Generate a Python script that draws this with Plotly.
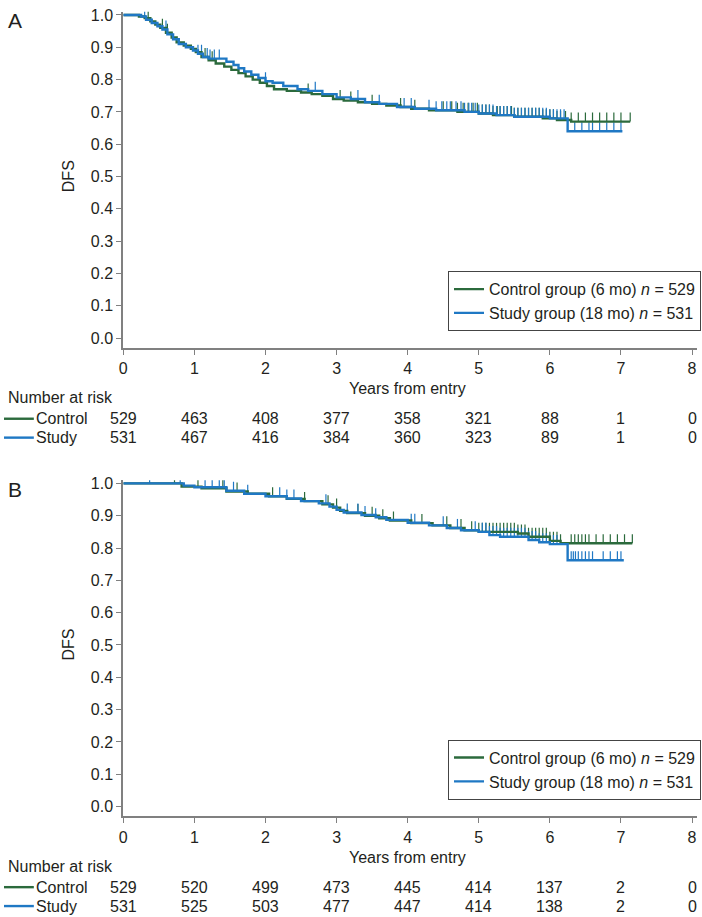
import plotly.graph_objects as go

# ---------------- data ----------------
years = [0, 1, 2, 3, 4, 5, 6, 7, 8]
dfs_ticks = [0.0, 0.1, 0.2, 0.3, 0.4, 0.5, 0.6, 0.7, 0.8, 0.9, 1.0]

# Panel A: Kaplan-Meier step points (time in years, DFS)
a_ctrl_t = [0, 0.22, 0.3, 0.38, 0.45, 0.52, 0.6, 0.68, 0.75, 0.85, 0.95, 1.02, 1.1, 1.2, 1.3, 1.42,
            1.52, 1.62, 1.72, 1.82, 1.92, 2.02, 2.12, 2.3, 2.5, 2.65, 2.8, 2.95, 3.1, 3.3, 3.5, 3.7,
            3.9, 4.05, 4.3, 4.7, 5.0, 5.2, 5.5, 5.9, 6.1, 6.3, 7.13]
a_ctrl_s = [1.0, 0.995, 0.99, 0.98, 0.97, 0.96, 0.945, 0.93, 0.915, 0.905, 0.895, 0.885, 0.87, 0.86,
            0.85, 0.84, 0.83, 0.82, 0.81, 0.8, 0.79, 0.78, 0.77, 0.765, 0.76, 0.755, 0.75, 0.74, 0.735,
            0.73, 0.725, 0.72, 0.715, 0.71, 0.705, 0.7, 0.695, 0.69, 0.685, 0.68, 0.675, 0.67, 0.67]
a_study_t = [0, 0.25, 0.32, 0.4, 0.48, 0.55, 0.62, 0.7, 0.78, 0.88, 0.98, 1.05, 1.12, 1.2, 1.45, 1.55,
             1.62, 1.7, 1.8, 1.9, 2.0, 2.1, 2.25, 2.45, 2.6, 2.8, 3.0, 3.2, 3.4, 3.6, 3.85, 4.1, 4.4,
             4.8, 5.0, 5.25, 5.5, 6.0, 6.25, 7.02]
a_study_s = [1.0, 0.995, 0.985, 0.975, 0.965, 0.955, 0.94, 0.925, 0.91, 0.9, 0.89, 0.88, 0.87, 0.865,
             0.855, 0.845, 0.835, 0.825, 0.815, 0.805, 0.795, 0.79, 0.78, 0.77, 0.765, 0.755, 0.745,
             0.74, 0.73, 0.725, 0.715, 0.71, 0.705, 0.7, 0.695, 0.69, 0.685, 0.68, 0.64, 0.64]
a_ctrl_cens = [0.35, 0.55, 0.62, 1.15, 1.25, 2.6, 3.05, 3.2, 3.5, 3.9, 4.1, 4.5, 4.62, 4.7, 4.78, 4.85,
               4.92, 4.98, 5.05, 5.1, 5.15, 5.2, 5.26, 5.3, 5.35, 5.4, 5.46, 5.5, 5.55, 5.6, 5.65, 5.7,
               5.75, 5.8, 5.85, 5.9, 5.95, 6.0, 6.05, 6.1, 6.15, 6.22, 6.3, 6.4, 6.5, 6.6, 6.7, 6.8,
               6.9, 7.0, 7.13]
a_study_cens = [0.3, 0.6, 1.05, 1.1, 1.18, 1.22, 1.28, 1.35, 2.0, 2.7, 3.3, 3.6, 3.95, 4.05, 4.3, 4.4,
                4.48, 4.55, 4.6, 4.68, 4.75, 4.8, 4.86, 4.9, 4.95, 5.0, 5.05, 5.1, 5.15, 5.2, 5.25,
                5.3, 5.35, 5.4, 5.45, 5.5, 5.55, 5.6, 5.65, 5.7, 5.75, 5.8, 5.85, 5.9, 5.95, 6.0,
                6.05, 6.1, 6.15, 6.2, 6.35, 6.45, 6.55, 6.6, 6.7, 6.8, 6.9, 7.0]

# Panel B
b_ctrl_t = [0, 0.82, 1.1, 1.45, 1.75, 2.05, 2.3, 2.55, 2.8, 2.95, 3.05, 3.15, 3.4, 3.6, 3.75, 4.05,
            4.35, 4.6, 4.8, 5.0, 5.55, 5.7, 6.0, 6.15, 7.16]
b_ctrl_s = [1.0, 0.99, 0.985, 0.975, 0.968, 0.96, 0.952, 0.945, 0.935, 0.925, 0.915, 0.908, 0.9, 0.892,
            0.885, 0.877, 0.87, 0.862, 0.855, 0.85, 0.845, 0.835, 0.822, 0.815, 0.815]
b_study_t = [0, 0.85, 1.0, 1.45, 1.7, 2.0, 2.3, 2.5, 2.75, 2.9, 3.0, 3.1, 3.35, 3.55, 3.7, 4.0, 4.3,
             4.55, 4.75, 5.0, 5.15, 5.3, 5.7, 5.85, 6.0, 6.25, 7.04]
b_study_s = [1.0, 0.993, 0.988, 0.977, 0.968, 0.96, 0.953, 0.945, 0.938, 0.928, 0.918, 0.91, 0.902,
             0.895, 0.887, 0.878, 0.87, 0.862, 0.855, 0.85, 0.84, 0.835, 0.825, 0.818, 0.812, 0.762, 0.762]
b_ctrl_cens = [0.72, 1.05, 1.4, 1.6, 2.1, 2.55, 2.88, 3.0, 3.3, 3.5, 3.65, 3.8, 4.2, 4.55, 4.75, 4.9,
               5.0, 5.05, 5.1, 5.15, 5.2, 5.25, 5.3, 5.35, 5.4, 5.45, 5.5, 5.55, 5.6, 5.65, 5.7, 5.75,
               5.8, 5.85, 5.9, 5.95, 6.0, 6.05, 6.1, 6.15, 6.3, 6.35, 6.4, 6.45, 6.5, 6.55, 6.65, 6.75,
               6.85, 6.95, 7.05, 7.16]
b_study_cens = [0.37, 0.8, 1.15, 1.25, 1.35, 1.42, 1.55, 1.75, 2.2, 2.3, 2.4, 2.85, 3.15, 3.3, 3.4,
                3.55, 4.05, 4.1, 4.5, 4.7, 4.95, 5.05, 5.1, 5.15, 5.2, 5.25, 5.3, 5.35, 5.4, 5.45, 5.5,
                5.55, 5.6, 5.65, 5.7, 5.75, 5.8, 5.85, 5.9, 5.95, 6.0, 6.05, 6.1, 6.3, 6.33, 6.36, 6.4,
                6.45, 6.5, 6.55, 6.6, 6.75, 6.85, 6.95, 7.0]

# Number at risk
a_risk_ctrl = [529, 463, 408, 377, 358, 321, 88, 1, 0]
a_risk_study = [531, 467, 416, 384, 360, 323, 89, 1, 0]
b_risk_ctrl = [529, 520, 499, 473, 445, 414, 137, 2, 0]
b_risk_study = [531, 525, 503, 477, 447, 414, 138, 2, 0]

ctrl_name = "Control group (6 mo) <i>n</i> = 529"
study_name = "Study group (18 mo) <i>n</i> = 531"

# ---------------- style ----------------
W, H = 702, 917
GREEN = "#2b6a3c"
BLUE = "#1f78c4"
AXIS = "#808080"
TXT = "#231f20"
FONT = "Liberation Sans, Arial, sans-serif"
CENS_H = 0.028


def py(px):
    return 1 - px / H


def px_(px):
    return px / W


def step_at(ts, ss, t):
    v = ss[0]
    for ti, si in zip(ts, ss):
        if ti <= t:
            v = si
    return v


def cens_xy(ts, ss, cens):
    xs, ys = [], []
    for c in cens:
        v = step_at(ts, ss, c)
        xs += [c, c, None]
        ys += [v, v + CENS_H, None]
    return xs, ys


fig = go.Figure()

panels = [
    dict(x="x", y="y", legend="legend",
         ct=a_ctrl_t, cs=a_ctrl_s, st=a_study_t, ss=a_study_s,
         cc=a_ctrl_cens, sc=a_study_cens),
    dict(x="x2", y="y2", legend="legend2",
         ct=b_ctrl_t, cs=b_ctrl_s, st=b_study_t, ss=b_study_s,
         cc=b_ctrl_cens, sc=b_study_cens),
]

for p in panels:
    cx, cy = cens_xy(p["ct"], p["cs"], p["cc"])
    fig.add_trace(go.Scatter(x=cx, y=cy, mode="lines", line=dict(color=GREEN, width=1.2),
                             xaxis=p["x"], yaxis=p["y"], showlegend=False, hoverinfo="skip"))
    sx, sy = cens_xy(p["st"], p["ss"], p["sc"])
    fig.add_trace(go.Scatter(x=sx, y=sy, mode="lines", line=dict(color=BLUE, width=1.2),
                             xaxis=p["x"], yaxis=p["y"], showlegend=False, hoverinfo="skip"))
    fig.add_trace(go.Scatter(x=p["ct"], y=p["cs"], mode="lines", line=dict(color=GREEN, width=2.4, shape="hv"),
                             name=ctrl_name, xaxis=p["x"], yaxis=p["y"], legend=p["legend"]))
    fig.add_trace(go.Scatter(x=p["st"], y=p["ss"], mode="lines", line=dict(color=BLUE, width=2.4, shape="hv"),
                             name=study_name, xaxis=p["x"], yaxis=p["y"], legend=p["legend"]))

xdom = [px_(120), px_(697)]
common_x = dict(range=[0, 8.07], tickvals=years, ticktext=[str(v) for v in years],
                showline=True, linecolor=AXIS, linewidth=2, ticks="outside", ticklen=5,
                tickcolor=AXIS, tickwidth=1, showgrid=False, zeroline=False,
                tickfont=dict(size=16, color=TXT, family=FONT))
common_y = dict(range=[-0.03, 1.01], tickvals=dfs_ticks, ticktext=["%.1f" % v for v in dfs_ticks],
                showline=True, linecolor=AXIS, linewidth=2, ticks="outside", ticklen=5,
                tickcolor=AXIS, tickwidth=1, showgrid=False, zeroline=False,
                tickfont=dict(size=16, color=TXT, family=FONT))

# panel offsets (px)
A_OFF, B_OFF = 0, 471

fig.update_layout(
    width=W, height=H, margin=dict(l=0, r=0, t=0, b=0),
    paper_bgcolor="white", plot_bgcolor="white",
    font=dict(family=FONT, size=16, color=TXT),
    xaxis=dict(domain=xdom, anchor="y", **common_x),
    yaxis=dict(domain=[py(344.75), py(6.75)], anchor="x", **common_y),
    xaxis2=dict(domain=xdom, anchor="y2", **common_x),
    yaxis2=dict(domain=[py(344.75 + B_OFF), py(6.75 + B_OFF)], anchor="x2", **common_y),
    legend=dict(x=px_(701), xanchor="right", y=py(328), yanchor="bottom",
                bordercolor="#444444", borderwidth=1, bgcolor="white",
                font=dict(size=16, color=TXT, family=FONT), tracegroupgap=0),
    legend2=dict(x=px_(701), xanchor="right", y=py(328 + B_OFF), yanchor="bottom",
                 bordercolor="#444444", borderwidth=1, bgcolor="white",
                 font=dict(size=16, color=TXT, family=FONT), tracegroupgap=0),
    showlegend=True,
)

annotations = []
shapes = []
for label, off, xr, yr, rc, rs in [("A", A_OFF, "x", "y", a_risk_ctrl, a_risk_study),
                                   ("B", B_OFF, "x2", "y2", b_risk_ctrl, b_risk_study)]:
    annotations.append(dict(text=label, x=px_(2), y=py(16 + off), xref="paper", yref="paper",
                            xanchor="left", yanchor="middle", showarrow=False,
                            font=dict(size=21, color=TXT)))
    annotations.append(dict(text="DFS", x=px_(65), y=0.5, xref="paper", yref=yr,
                            xanchor="center", yanchor="middle", textangle=-90, showarrow=False,
                            font=dict(size=16, color=TXT)))
    annotations.append(dict(text="Years from entry", x=4, y=py(386 + off), xref=xr, yref="paper",
                            xanchor="center", yanchor="middle", showarrow=False,
                            font=dict(size=16, color=TXT)))
    annotations.append(dict(text="Number at risk", x=px_(2), y=py(395 + off), xref="paper", yref="paper",
                            xanchor="left", yanchor="middle", showarrow=False,
                            font=dict(size=16, color=TXT)))
    for name, col, row_y, vals in [("Control", GREEN, 416 + off, rc), ("Study", BLUE, 435 + off, rs)]:
        shapes.append(dict(type="line", xref="paper", yref="paper", x0=0, x1=px_(30),
                           y0=py(row_y), y1=py(row_y), line=dict(color=col, width=2.4)))
        annotations.append(dict(text=name, x=px_(30), y=py(row_y), xref="paper", yref="paper",
                                xanchor="left", yanchor="middle", showarrow=False,
                                font=dict(size=16, color=TXT)))
        for yr_, v in zip(years, vals):
            annotations.append(dict(text=str(v), x=yr_, y=py(row_y), xref=xr, yref="paper",
                                    xanchor="center", yanchor="middle", showarrow=False,
                                    font=dict(size=16, color=TXT)))

fig.update_layout(annotations=annotations, shapes=shapes)
fig.write_html("out.html",
               config={"displayModeBar": False},
               post_script="document.body.style.margin='0';document.body.style.padding='0';"
                           "document.body.style.overflow='hidden';")
